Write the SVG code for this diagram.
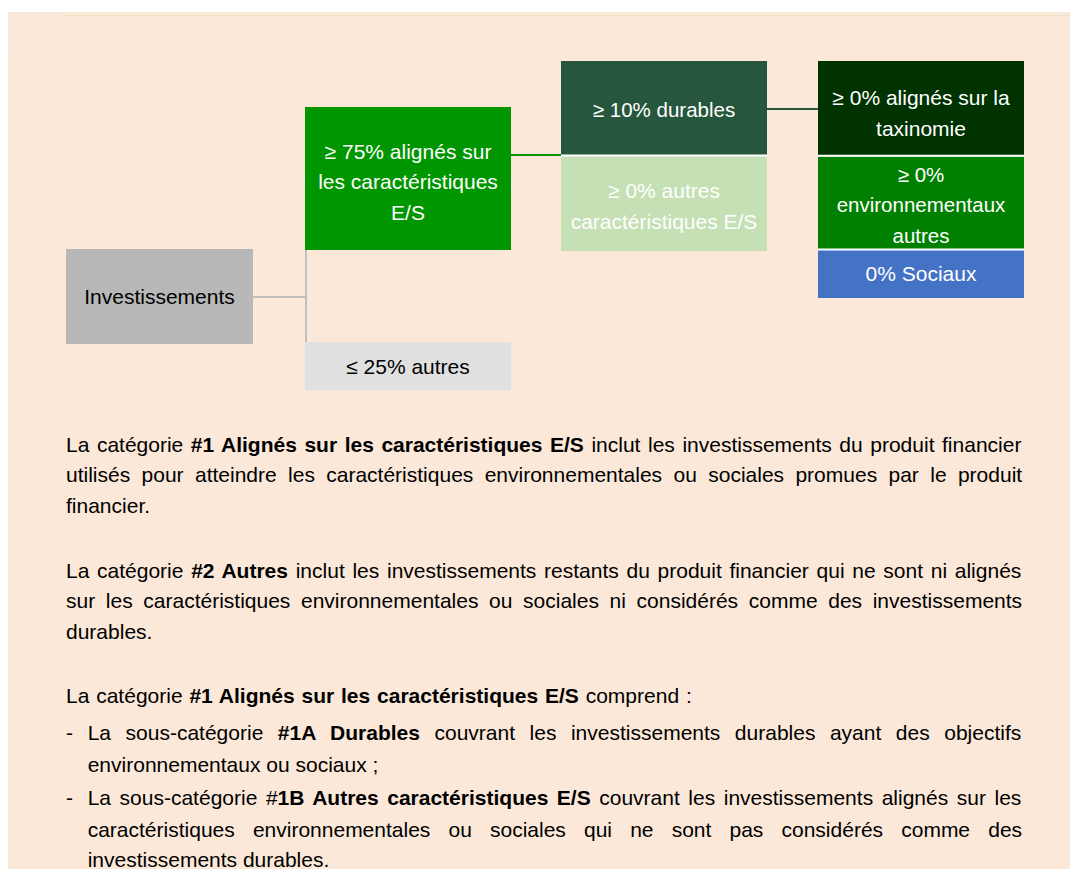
<svg xmlns="http://www.w3.org/2000/svg" width="1070" height="869" viewBox="0 0 1070 869">
<style>
.bt{font-family:"Liberation Sans",Arial,Helvetica,sans-serif;font-size:21px;fill:#000}
.b{font-weight:bold}
.nt{font-family:"Liberation Sans",Arial,Helvetica,sans-serif;font-size:21px;text-anchor:middle;fill:#fff}
.nt.k{fill:#000}
.sm{font-size:20.5px}
.sep{stroke:#fff;stroke-width:2}
</style>
<rect width="1070" height="869" fill="#fff"/>
<rect x="8" y="12" width="1062" height="857" fill="#FBE8D9"/>
<line x1="64" y1="15.5" x2="1070" y2="15.5" stroke="#E6E6C4" stroke-width="1"/>
<line x1="11.5" y1="60" x2="11.5" y2="869" stroke="#EEEBCB" stroke-width="1"/>

<g id="connectors" fill="none" stroke-width="2">
<path d="M253 297 H306 M306 250 V342" stroke="#BFBFBF"/>
<path d="M511 155 H561" stroke="#009600"/>
<path d="M767 109 H818" stroke="#26573C"/>
</g>

<g id="investissements">
<rect x="66" y="249" width="187" height="95" fill="#B8B8B8"/>
<text class="nt k" x="159.5" y="304">Investissements</text>
</g>

<g id="alignes-es">
<rect x="305" y="107" width="206" height="143" fill="#009600"/>
<text class="nt" x="408" y="158.5">≥ 75% alignés sur</text>
<text class="nt" x="408" y="189">les caractéristiques</text>
<text class="nt" x="408" y="219.5">E/S</text>
</g>

<g id="autres">
<rect x="305" y="342" width="206" height="48" fill="#E0E0E0"/>
<text class="nt k" x="408" y="374">≤ 25% autres</text>
</g>

<g id="durables">
<rect x="561" y="61" width="206" height="94" fill="#26573C"/>
<text class="nt sm" x="664" y="117.3">≥ 10% durables</text>
</g>

<g id="autres-es">
<rect x="561" y="156" width="206" height="95" fill="#C5E0B4"/>
<text class="nt" x="664" y="198.3">≥ 0% autres</text>
<text class="nt" x="664" y="229">caractéristiques E/S</text>
</g>

<g id="taxinomie">
<rect x="818" y="61" width="206" height="94" fill="#003300"/>
<text class="nt" x="921" y="105">≥ 0% alignés sur la</text>
<text class="nt" x="921" y="135.7">taxinomie</text>
</g>

<g id="environnementaux">
<rect x="818" y="156.5" width="206" height="92.5" fill="#008000"/>
<text class="nt sm" x="921" y="181.7">≥ 0%</text>
<text class="nt sm" x="921" y="212.3">environnementaux</text>
<text class="nt sm" x="921" y="242.7">autres</text>
</g>

<g id="sociaux">
<rect x="818" y="250" width="206" height="48" fill="#4472C4"/>
<text class="nt" x="921" y="280.7">0% Sociaux</text>
</g>

<g id="separators">
<line class="sep" x1="561" y1="155.5" x2="767" y2="155.5"/>
<line class="sep" x1="818" y1="155.7" x2="1024" y2="155.7"/>
<line class="sep" x1="818" y1="249.5" x2="1024" y2="249.5"/>
</g>

<g id="body-text">
<text class="bt" x="66" y="451.5" word-spacing="1.72">La catégorie <tspan class="b">#1 Alignés sur les caractéristiques E/S</tspan> inclut les investissements du produit financier</text>
<text class="bt" x="66" y="482.3" word-spacing="5.53">utilisés pour atteindre les caractéristiques environnementales ou sociales promues par le produit</text>
<text class="bt" x="66" y="512.8">financier.</text>

<text class="bt" x="66" y="577.7" word-spacing="1.87">La catégorie <tspan class="b">#2 Autres</tspan> inclut les investissements restants du produit financier qui ne sont ni alignés</text>
<text class="bt" x="66" y="608.3" word-spacing="4.8">sur les caractéristiques environnementales ou sociales ni considérés comme des investissements</text>
<text class="bt" x="66" y="639">durables.</text>

<text class="bt" x="66" y="703.3" word-spacing="1">La catégorie <tspan class="b">#1 Alignés sur les caractéristiques E/S</tspan> comprend :</text>

<text class="bt" x="66" y="740">-</text>
<text class="bt" x="87.7" y="740" word-spacing="8.69">La sous-catégorie <tspan class="b">#1A Durables</tspan> couvrant les investissements durables ayant des objectifs</text>
<text class="bt" x="87.7" y="771.5">environnementaux ou sociaux ;</text>

<text class="bt" x="66" y="805">-</text>
<text class="bt" x="87.7" y="805" word-spacing="2.71">La sous-catégorie #<tspan class="b">1B Autres caractéristiques E/S</tspan> couvrant les investissements alignés sur les</text>
<text class="bt" x="87.7" y="836.7" word-spacing="12.31">caractéristiques environnementales ou sociales qui ne sont pas considérés comme des</text>
<text class="bt" x="87.7" y="867">investissements durables.</text>
</g>
</svg>
